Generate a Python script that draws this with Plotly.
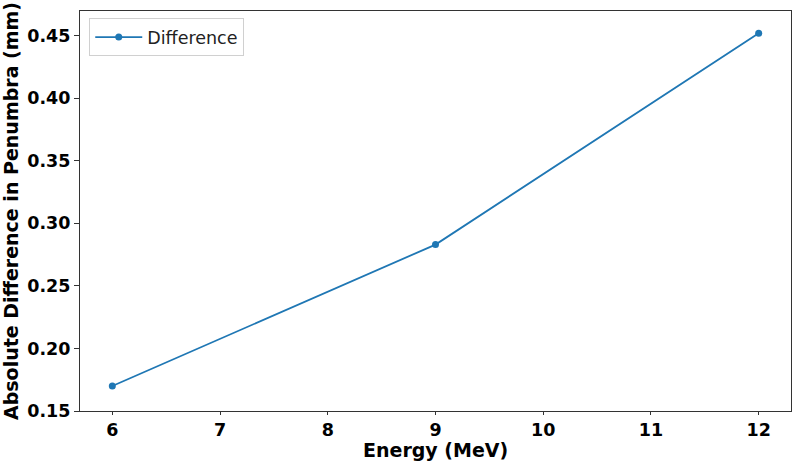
import plotly.graph_objects as go

energy = [6, 9, 12]
difference = [0.170, 0.283, 0.452]
x_ticks = [6, 7, 8, 9, 10, 11, 12]
y_ticks = [0.15, 0.20, 0.25, 0.30, 0.35, 0.40, 0.45]
x_title = "Energy (MeV)"
y_title = "Absolute Difference in Penumbra (mm)"

fig = go.Figure()
fig.add_trace(go.Scatter(
    x=energy, y=difference, mode="lines+markers", name="Difference",
    line=dict(color="#1f77b4", width=1.8),
    marker=dict(color="#1f77b4", size=7),
))

font_family = "DejaVu Sans"
fig.update_layout(
    width=793, height=462,
    margin=dict(l=80, r=2, t=11, b=51),
    paper_bgcolor="white", plot_bgcolor="white",
    font=dict(family=font_family, color="black"),
    showlegend=True,
    legend=dict(
        x=0.013, y=0.982, xanchor="left", yanchor="top",
        bgcolor="rgba(255,255,255,0.8)", bordercolor="#d0d0d0", borderwidth=1,
        itemwidth=47,
        font=dict(family=font_family, size=17.5, color="#222"),
    ),
    xaxis=dict(
        range=[5.7, 12.3], tickvals=x_ticks, ticktext=[str(v) for v in x_ticks],
        showgrid=False, zeroline=False, automargin=False,
        showline=True, linecolor="#333", linewidth=1.2, mirror=True,
        ticks="outside", ticklen=3, tickcolor="#333",
        tickfont=dict(family=font_family, size=17.5, color="black", weight="bold"),
    ),
    yaxis=dict(
        range=[0.15, 0.4697], tickvals=y_ticks, ticktext=[f"{v:.2f}" for v in y_ticks],
        showgrid=False, zeroline=False,
        showline=True, linecolor="#333", linewidth=1.2, mirror=True,
        ticks="outside", ticklen=5, tickcolor="#333",
        tickfont=dict(family=font_family, size=17.5, color="black", weight="bold"),
        title=dict(text=y_title, standoff=4,
                   font=dict(family=font_family, size=19, color="black", weight="bold")),
    ),
    annotations=[dict(
        text=x_title, xref="paper", yref="paper", x=0.5, y=-0.098,
        xanchor="center", yanchor="middle", showarrow=False,
        font=dict(family=font_family, size=19, color="black", weight="bold"),
    )],
)

fig.write_html("out.html")
